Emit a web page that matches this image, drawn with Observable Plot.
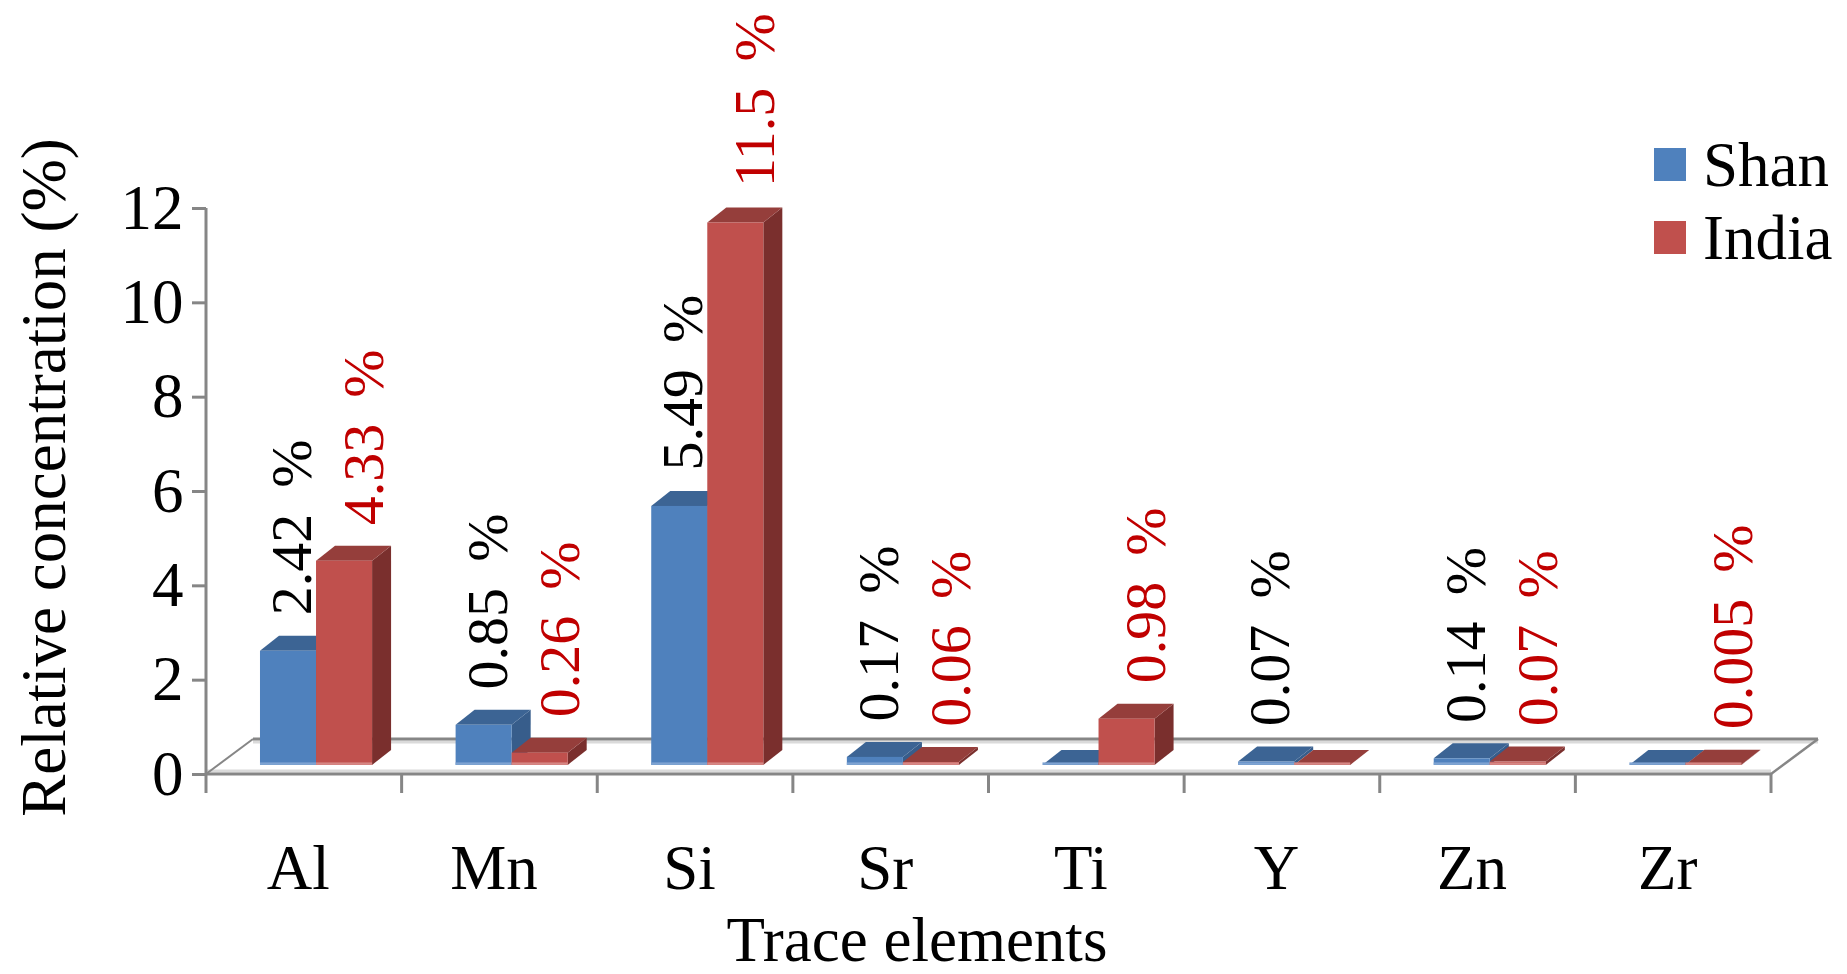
<!DOCTYPE html>
<html>
<head>
<meta charset="utf-8">
<script src="https://cdn.jsdelivr.net/npm/d3@7"></script>
<script src="https://cdn.jsdelivr.net/npm/@observablehq/plot@0.6"></script>
<style>
  html, body { margin: 0; padding: 0; background: white; }
  #wrap { position: relative; width: 1847px; height: 974px; overflow: hidden; font-family: "Liberation Serif", "Times New Roman", serif; }
  #wrap svg { position: absolute; left: 0; top: 0; }
  .lg-sw { position: absolute; width: 32px; height: 33px; }
  .lg-tx { position: absolute; font-size: 63px; line-height: 63px; color: black; white-space: nowrap; }
</style>
</head>
<body>
<div id="wrap"></div>
<script>
// ---- data ----
const elements = ["Al", "Mn", "Si", "Sr", "Ti", "Y", "Zn", "Zr"];
const seriesNames = ["Shan", "India"];
const shanValues = [2.42, 0.85, 5.49, 0.17, 0, 0.07, 0.14, 0];
const indiaValues = [4.33, 0.26, 11.5, 0.06, 0.98, 0, 0.07, 0.005];
const shanLabels = ["2.42 %", "0.85 %", "5.49 %", "0.17 %", "", "0.07 %", "0.14 %", ""];
const indiaLabels = ["4.33 %", "0.26 %", "11.5 %", "0.06 %", "0.98 %", "", "0.07 %", "0.005 %"];
const yTicks = [0, 2, 4, 6, 8, 10, 12];
const xTitle = "Trace elements";
const yTitle = "Relative concentration (%)";

// ---- styling ----
const colors = {
  Shan:  {front: "#4F81BD", top: "#3C6494", side: "#375D8B", edge: "#7EA3D2", label: "#000000"},
  India: {front: "#C0504D", top: "#953E3B", side: "#7A2F2D", edge: "#D68784", label: "#C00000"}
};
const axisGray = "#868686";
const FONT = "'Liberation Serif', 'Times New Roman', serif";

const rows = [];
elements.forEach((el, i) => {
  rows.push({element: el, series: "Shan", index: 0, value: shanValues[i], label: shanLabels[i]});
  rows.push({element: el, series: "India", index: 1, value: indiaValues[i], label: indiaLabels[i]});
});

const fmtLabel = s => s.replace(" ", "\u00a0\u2009");

// 3D floor + bars drawn via the plot's scales
function render3D(index, scales, values, dims) {
  const x = scales.x, y = scales.y;
  const x0 = dims.marginLeft, x1 = dims.width - dims.marginRight;
  const y0 = y(0);
  const step = x(elements[1]) - x(elements[0]);
  const F = {dx: 47, dy: -35};           // floor depth
  const S = {dx: F.dx * 0.26, dy: F.dy * 0.26}; // bar front plane
  const D = {dx: 19, dy: -15};           // bar depth
  const bw = step * 0.2865;
  const gStart = (step - 2 * bw) / 2;
  const g = d3.create("svg:g");

  // floor
  g.append("path")
    .attr("d", `M${x0},${y0}L${x1},${y0}L${x1 + F.dx},${y0 + F.dy}L${x0 + F.dx},${y0 + F.dy}Z`)
    .attr("fill", "white");
  g.append("line").attr("x1", x0 + F.dx).attr("x2", x1 + F.dx).attr("y1", y0 + F.dy + 3).attr("y2", y0 + F.dy + 3)
    .attr("stroke", "#dadada").attr("stroke-width", 3);
  g.append("line").attr("x1", x0).attr("x2", x1).attr("y1", y0 - 3).attr("y2", y0 - 3)
    .attr("stroke", "#dadada").attr("stroke-width", 3);
  g.append("line").attr("x1", x0 + F.dx).attr("x2", x1 + F.dx).attr("y1", y0 + F.dy).attr("y2", y0 + F.dy)
    .attr("stroke", axisGray).attr("stroke-width", 3);
  g.append("line").attr("x1", x0).attr("x2", x0 + F.dx).attr("y1", y0).attr("y2", y0 + F.dy)
    .attr("stroke", axisGray).attr("stroke-width", 2);
  g.append("line").attr("x1", x1).attr("x2", x1 + F.dx).attr("y1", y0).attr("y2", y0 + F.dy)
    .attr("stroke", axisGray).attr("stroke-width", 2.5);
  g.append("line").attr("x1", x0).attr("x2", x1).attr("y1", y0).attr("y2", y0)
    .attr("stroke", axisGray).attr("stroke-width", 3);
  // category ticks
  for (let k = 0; k <= elements.length; k++) {
    const xk = x0 + k * step;
    g.append("line").attr("x1", xk).attr("x2", xk).attr("y1", y0).attr("y2", y0 + 19)
      .attr("stroke", axisGray).attr("stroke-width", 3);
  }
  // y axis line
  g.append("line").attr("x1", x0).attr("x2", x0).attr("y1", y(12)).attr("y2", y0)
    .attr("stroke", axisGray).attr("stroke-width", 3);

  // bars
  for (const r of rows) {
    const c = colors[r.series];
    const xl = x(r.element) + gStart + r.index * bw + S.dx;
    const xr = xl + bw;
    const yb = y0 + S.dy;
    const yt = y(r.value) + S.dy;
    g.append("path")
      .attr("d", `M${xr},${yt}L${xr + D.dx},${yt + D.dy}L${xr + D.dx},${yb + D.dy}L${xr},${yb}Z`)
      .attr("fill", c.side);
    g.append("path")
      .attr("d", `M${xl},${yt}L${xl + D.dx},${yt + D.dy}L${xr + D.dx},${yt + D.dy}L${xr},${yt}Z`)
      .attr("fill", c.top);
    g.append("rect").attr("x", xl).attr("y", yt).attr("width", bw).attr("height", Math.max(0, yb - yt))
      .attr("fill", c.front);
    g.append("rect").attr("x", xl).attr("y", yb - 2.5).attr("width", bw).attr("height", 2.5)
      .attr("fill", c.edge);
  }
  return g.node();
}

const shanRows = rows.filter(d => d.series === "Shan" && d.label);
const indiaRows = rows.filter(d => d.series === "India" && d.label);

const plot = Plot.plot({
  width: 1847,
  height: 974,
  marginLeft: 206,
  marginRight: 76,
  marginTop: 208,
  marginBottom: 200,
  x: {type: "band", domain: elements, padding: 0, round: false, axis: null},
  y: {domain: [0, 12], axis: null},
  style: {fontFamily: FONT, fontSize: "63px", background: "white", color: "black", overflow: "visible"},
  marks: [
    Plot.ruleY([0], {render: render3D}),
    Plot.axisY({ticks: yTicks, tickSize: 14, tickPadding: 9, stroke: axisGray, strokeWidth: 3, fill: "black", fontSize: 63, label: null}),
    Plot.text(elements, {x: d => d, frameAnchor: "bottom", textAnchor: "middle", lineAnchor: "middle", dy: 94, dx: -6, fontSize: 63, fill: "black"}),
    Plot.text(shanRows, {x: "element", y: "value", text: d => fmtLabel(d.label), rotate: -90, textAnchor: "start", lineAnchor: "middle", dx: -12, dy: -45, fontSize: 58, fill: colors.Shan.label}),
    Plot.text(indiaRows, {x: "element", y: "value", text: d => fmtLabel(d.label), rotate: -90, textAnchor: "start", lineAnchor: "middle", dx: 60, dy: -45, fontSize: 58, fill: colors.India.label}),
    Plot.text([yTitle], {frameAnchor: "left", rotate: -90, textAnchor: "middle", lineAnchor: "middle", dx: -162, dy: -14, fontSize: 63, fill: "black"}),
    Plot.text([xTitle], {frameAnchor: "bottom", textAnchor: "middle", lineAnchor: "middle", dx: -72, dy: 166, fontSize: 63, fill: "black"})
  ]
});

const wrap = document.getElementById("wrap");
wrap.appendChild(plot);

// legend (HTML)
seriesNames.forEach((name, i) => {
  const sw = document.createElement("div");
  sw.className = "lg-sw";
  sw.style.left = "1654px";
  sw.style.top = (148 + i * 73) + "px";
  sw.style.background = colors[name].front;
  wrap.appendChild(sw);
  const tx = document.createElement("div");
  tx.className = "lg-tx";
  tx.style.left = "1703px";
  tx.style.top = (134 + i * 73) + "px";
  tx.textContent = name;
  wrap.appendChild(tx);
});
</script>
</body>
</html>
